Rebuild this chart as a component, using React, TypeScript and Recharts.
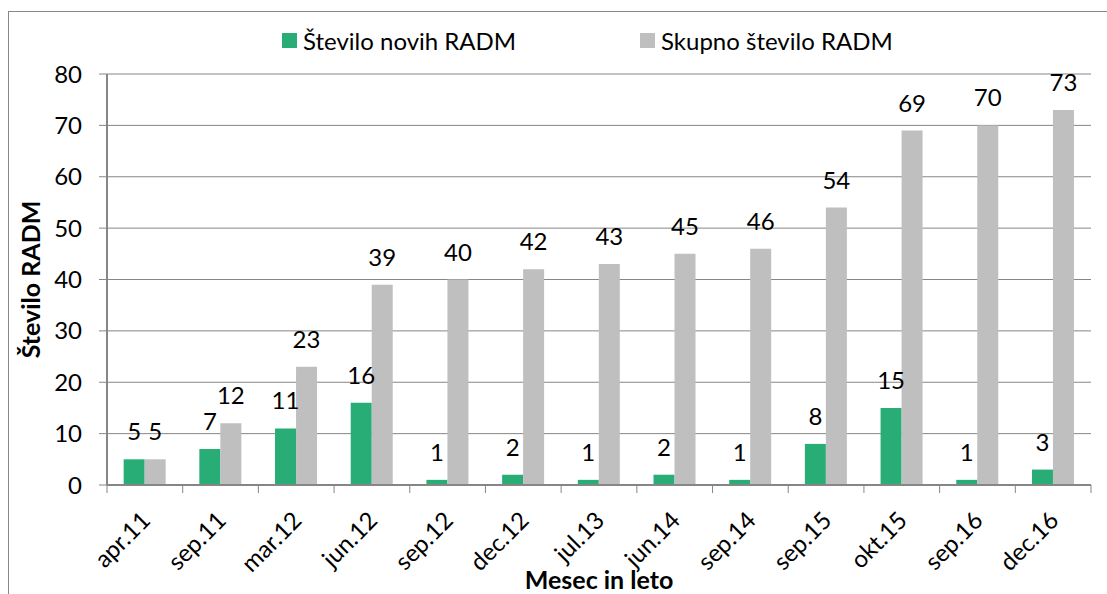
import React from 'react';
import { BarChart, Bar, XAxis, YAxis, CartesianGrid, Legend, LabelList } from 'recharts';

const categories = ['apr.11', 'sep.11', 'mar.12', 'jun.12', 'sep.12', 'dec.12', 'jul.13', 'jun.14', 'sep.14', 'sep.15', 'okt.15', 'sep.16', 'dec.16'];
const newCounts = [5, 7, 11, 16, 1, 2, 1, 2, 1, 8, 15, 1, 3];
const totalCounts = [5, 12, 23, 39, 40, 42, 43, 45, 46, 54, 69, 70, 73];
const yTicks = [0, 10, 20, 30, 40, 50, 60, 70, 80];

const seriesNames = ['Število novih RADM', 'Skupno število RADM'];
const colors = ['#27AD75', '#BFBFBF'];

const data = categories.map((c, i) => ({ name: c, novi: newCounts[i], skupno: totalCounts[i] }));

const W = 1107;
const H = 594;
const LEGEND_H = 30;
const M = { top: 74 - LEGEND_H, right: 16, bottom: 0, left: 0 };
const Y_W = 107;
const X_H = 109;
const FONT = 'Lato, "Open Sans", sans-serif';
const AXIS = '#868686';
const band = (W - M.left - M.right - Y_W) / categories.length;

const XTick = (props: any) => {
  const { x, y, payload, index } = props;
  return (
    <g>
      <line x1={x - band / 2} y1={y} x2={x - band / 2} y2={y + 8} stroke={AXIS} strokeWidth={1} />
      {index === categories.length - 1 && (
        <line x1={x + band / 2} y1={y} x2={x + band / 2} y2={y + 8} stroke={AXIS} strokeWidth={1} />
      )}
      <g transform={`translate(${x + 1},${y + 31})`}>
        <text transform="rotate(-45)" textAnchor="end" dy="0.35em" fontSize={24} fontFamily={FONT} fill="#000">
          {payload.value}
        </text>
      </g>
    </g>
  );
};

const LegendContent = () => (
  <div style={{ position: 'relative', width: W, height: LEGEND_H, fontFamily: FONT, fontSize: 24 }}>
    {[282, 640].map((left, i) => (
      <div key={i} style={{ position: 'absolute', left, top: 0, display: 'flex', alignItems: 'center', whiteSpace: 'nowrap' }}>
        <span style={{ display: 'inline-block', width: 15, height: 15, background: colors[i], marginRight: 6 }} />
        <span style={{ color: '#000' }}>{seriesNames[i]}</span>
      </div>
    ))}
  </div>
);

export default function App() {
  return (
    <div style={{ position: 'absolute', left: 0, top: 0, width: W, height: H, background: '#fff', overflow: 'hidden' }}>
      <BarChart width={W} height={H} data={data} margin={M} barCategoryGap="22%" barGap={0}>
        <CartesianGrid vertical={false} stroke={AXIS} strokeWidth={1} />
        <XAxis
          dataKey="name"
          height={X_H}
          interval={0}
          tickLine={false}
          tickSize={0}
          tickMargin={0}
          axisLine={{ stroke: AXIS, strokeWidth: 2 }}
          tick={<XTick />}
          label={(p: any) => {
            const vb = p.viewBox;
            return (
              <text x={vb.x + vb.width / 2} y={589} textAnchor="middle" fontSize={25} fontWeight="bold" fontFamily={FONT} fill="#000">
                Mesec in leto
              </text>
            );
          }}
        />
        <YAxis
          width={Y_W}
          domain={[0, 80]}
          ticks={yTicks}
          interval={0}
          tickSize={8}
          tickMargin={17}
          tickLine={{ stroke: AXIS }}
          axisLine={{ stroke: AXIS, strokeWidth: 2 }}
          tick={{ fontSize: 24, fontFamily: FONT, fill: '#000' }}
          label={(p: any) => {
            const vb = p.viewBox;
            const cy = vb.y + vb.height / 2;
            return (
              <text x={30} y={cy} transform={`rotate(-90, 30, ${cy})`} textAnchor="middle" dominantBaseline="central" fontSize={25} fontWeight="bold" fontFamily={FONT} fill="#000">
                Število RADM
              </text>
            );
          }}
        />
        <Legend verticalAlign="top" height={LEGEND_H} content={<LegendContent />} wrapperStyle={{ top: 26, left: 0, width: W }} />
        <Bar dataKey="novi" name={seriesNames[0]} fill={colors[0]} isAnimationActive={false}>
          <LabelList dataKey="novi" position="top" offset={19} fontSize={24} fontFamily={FONT} fill="#000" />
        </Bar>
        <Bar dataKey="skupno" name={seriesNames[1]} fill={colors[1]} isAnimationActive={false}>
          <LabelList dataKey="skupno" position="top" offset={19} fontSize={24} fontFamily={FONT} fill="#000" />
        </Bar>
      </BarChart>
      <div style={{ position: 'absolute', left: 8, top: 11, width: 1110, height: 600, border: '1px solid #888', pointerEvents: 'none' }} />
    </div>
  );
}
